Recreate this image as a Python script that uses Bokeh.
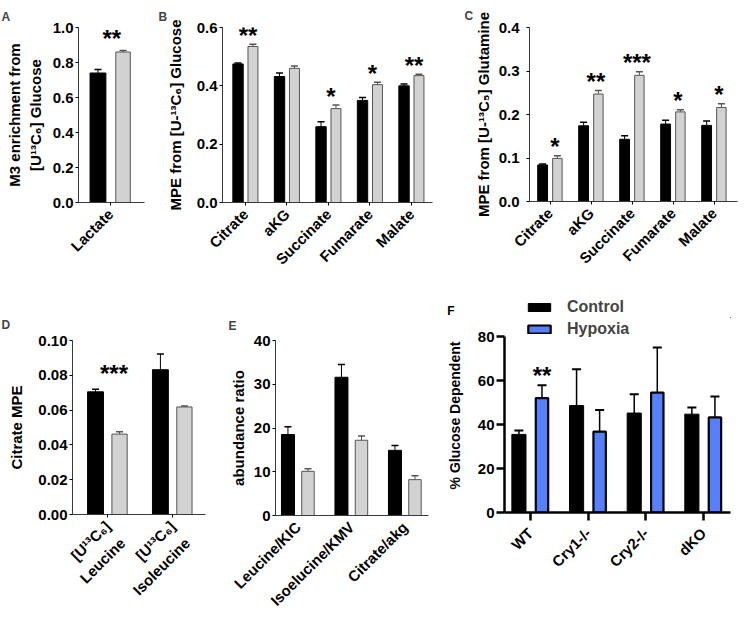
from bokeh.plotting import figure
from bokeh.layouts import row, column
from bokeh.models import (ColumnDataSource, Label, FixedTicker,
                          NumeralTickFormatter, Range1d, Legend, LegendItem, LinearAxis)
from bokeh.embed import file_html
from bokeh.resources import INLINE

FONT = "Liberation Sans"
GRAY = "#d2d2d2"
BLUE = "#5580ff"
ROT = 0.785

# ---------------- data ----------------
a_cats = ["Lactate"]
a_ctrl = [0.74]
a_ctrl_err = [0.02]
a_trt = [0.86]
a_trt_err = [0.008]
a_sig = ["**"]
a_yticks = [0, 0.2, 0.4, 0.6, 0.8, 1.0]

b_cats = ["Citrate", "aKG", "Succinate", "Fumarate", "Malate"]
b_ctrl = [0.475, 0.432, 0.26, 0.35, 0.40]
b_ctrl_err = [0.003, 0.012, 0.017, 0.010, 0.006]
b_trt = [0.535, 0.46, 0.322, 0.404, 0.435]
b_trt_err = [0.008, 0.008, 0.012, 0.008, 0.005]
b_sig = ["**", "", "*", "*", "**"]
b_yticks = [0, 0.2, 0.4, 0.6]

c_cats = ["Citrate", "aKG", "Succinate", "Fumarate", "Malate"]
c_ctrl = [0.084, 0.174, 0.143, 0.178, 0.175]
c_ctrl_err = [0.002, 0.008, 0.008, 0.009, 0.010]
c_trt = [0.099, 0.247, 0.290, 0.206, 0.216]
c_trt_err = [0.006, 0.008, 0.008, 0.005, 0.009]
c_sig = ["*", "**", "***", "*", "*"]
c_yticks = [0, 0.1, 0.2, 0.3, 0.4]

d_tracer = ["[U\u00b9\u00b3C\u2086]", "[U\u00b9\u00b3C\u2086]"]
d_cats = ["Leucine", "Isoleucine"]
d_ctrl = [0.0705, 0.0832]
d_ctrl_err = [0.0015, 0.009]
d_trt = [0.0462, 0.0618]
d_trt_err = [0.0013, 0.0005]
d_sig = ["***", ""]
d_yticks = [0, 0.02, 0.04, 0.06, 0.08, 0.10]

e_cats = ["Leucine/KIC", "Isoelucine/KMV", "Citrate/akg"]
e_ctrl = [18.5, 31.6, 14.9]
e_ctrl_err = [1.8, 2.9, 1.1]
e_trt = [10.1, 17.2, 8.2]
e_trt_err = [0.6, 1.0, 0.9]
e_yticks = [0, 10, 20, 30, 40]

f_cats = ["WT", "Cry1-/-", "Cry2-/-", "dKO"]
f_ctrl = [35.5, 48.6, 45.2, 44.7]
f_ctrl_err = [1.8, 16.5, 8.6, 3.0]
f_hyp = [52.0, 36.8, 54.5, 43.2]
f_hyp_err = [5.8, 9.8, 20.5, 9.5]
f_sig = ["**", "", "", ""]
f_yticks = [0, 20, 40, 60, 80]
f_series = ["Control", "Hypoxia"]


def make_fig(bl, fw, br, bt, fh, bb, xr, yr):
    p = figure(frame_width=fw, frame_height=fh,
               x_range=Range1d(*xr), y_range=Range1d(*yr),
               output_backend="svg", toolbar_location=None, tools="",
               min_border_left=bl, min_border_right=br,
               min_border_top=bt, min_border_bottom=bb)
    p.outline_line_color = None
    p.xgrid.visible = False
    p.ygrid.visible = False
    return p


def style(p, cats, yticks, yfmt, ylabel, thick=False, xticks_visible=True,
          ylab_standoff=8, mls=2, xls=6, ylab_size="15px", ybounds=None):
    for ax in (p.xaxis[0], p.yaxis[0]):
        if thick:
            ax.axis_line_color = "black"
            ax.axis_line_width = 2.5
            ax.major_tick_line_width = 2.5
        else:
            ax.axis_line_color = "#3a3a3a"
        ax.minor_tick_line_color = None
        ax.major_tick_in = 0
        ax.major_tick_out = 8 if thick else 3
        ax.major_label_text_font_size = "15px"
        ax.major_label_text_font = FONT
        ax.major_label_text_font_style = "bold"
        ax.major_label_text_color = "black"
    ya = p.yaxis[0]
    ya.ticker = FixedTicker(ticks=yticks)
    ya.formatter = NumeralTickFormatter(format=yfmt)
    ya.major_label_standoff = mls
    ya.axis_label = ylabel
    ya.axis_label_text_font = FONT
    ya.axis_label_text_font_style = "bold"
    ya.axis_label_text_font_size = ylab_size
    ya.axis_label_text_color = "black"
    ya.axis_label_standoff = ylab_standoff
    if ybounds is not None:
        ya.bounds = ybounds
    xa = p.xaxis[0]
    xa.ticker = FixedTicker(ticks=list(range(len(cats))))
    xa.major_label_overrides = {i: c for i, c in enumerate(cats)}
    xa.major_label_orientation = ROT
    xa.major_label_standoff = xls
    if not xticks_visible:
        xa.major_tick_line_color = None


def bars(p, n, vals, errs, off, width, fill, line, lw=1, cap=7, wlw=1):
    xs = [i + off for i in range(n)]
    src = ColumnDataSource(dict(x=xs, top=vals, hi=[v + e for v, e in zip(vals, errs)]))
    p.segment(x0="x", y0="top", x1="x", y1="hi", source=src, line_color=line, line_width=wlw)
    p.scatter(x="x", y="hi", source=src, marker="dash", size=cap,
              line_color=line, line_width=wlw + 0.5)
    return p.vbar(x="x", top="top", bottom=0, width=width, source=src,
                  fill_color=fill, line_color=line, line_width=lw)


def stars(p, sig, tops, xoff, dy=9, size="24px"):
    for i, (s, t) in enumerate(zip(sig, tops)):
        if s:
            p.add_layout(Label(x=i + xoff, y=t, text=s, text_align="center",
                               text_baseline="middle", y_offset=dy,
                               text_font=FONT, text_font_style="bold",
                               text_font_size=size, text_color="black"))


def letter(p, txt, offset, standoff):
    p.title.text = txt
    p.title.align = "left"
    p.title.offset = offset
    p.title.standoff = standoff
    p.title.text_font = FONT
    p.title.text_font_style = "bold"
    p.title.text_font_size = "12px"


def tops(a, ae, b, be):
    return [max(x + xe, y + ye) for x, xe, y, ye in zip(a, ae, b, be)]


def legend(items, loc):
    return Legend(items=items, location=loc, orientation="vertical",
                  glyph_width=28, glyph_height=10, label_standoff=14, spacing=0,
                  padding=0, margin=0, border_line_color=None, background_fill_alpha=0,
                  label_text_font=FONT, label_text_font_style="bold",
                  label_text_font_size="16px", label_height=18)


# ---------------- panel A ----------------
pA = make_fig(78, 66, 8, 25, 175, 92, (-0.485, 0.515), (0, 1.0))
style(pA, a_cats, a_yticks, "0.0", "M3 enrichment from\n[U\u00b9\u00b3C\u2086] Glucose", ylab_standoff=6)
bars(pA, 1, a_ctrl, a_ctrl_err, -0.19, 0.24, "black", "black")
bars(pA, 1, a_trt, a_trt_err, 0.19, 0.22, GRAY, "#555555")
stars(pA, a_sig, tops(a_ctrl, a_ctrl_err, a_trt, a_trt_err), 0.02, dy=12)
letter(pA, "A", -77, 8)

# ---------------- panel B ----------------
pB = make_fig(70, 210, 23, 24, 175, 93, (-0.554, 4.506), (0, 0.6))
style(pB, b_cats, b_yticks, "0.0", "MPE from [U-\u00b9\u00b3C\u2086] Glucose", ylab_standoff=10)
bars(pB, 5, b_ctrl, b_ctrl_err, -0.18, 0.25, "black", "black")
bars(pB, 5, b_trt, b_trt_err, 0.18, 0.24, GRAY, "#555555")
stars(pB, b_sig, tops(b_ctrl, b_ctrl_err, b_trt, b_trt_err), 0.06)
letter(pB, "B", -64, 7)

# ---------------- panel C ----------------
pC = make_fig(74, 208, 2, 27, 174, 91, (-0.5, 4.573), (0, 0.4))
style(pC, c_cats, c_yticks, "0.0", "MPE from [U-\u00b9\u00b3C\u2085] Glutamine",
      ylab_standoff=4, mls=7)
bars(pC, 5, c_ctrl, c_ctrl_err, -0.18, 0.24, "black", "black")
bars(pC, 5, c_trt, c_trt_err, 0.18, 0.23, GRAY, "#555555")
stars(pC, c_sig, tops(c_ctrl, c_ctrl_err, c_trt, c_trt_err), 0.12)
letter(pC, "C", -65, 10)

# ---------------- panel D ----------------
pD = make_fig(72, 133, 20, 48, 174, 106, (-0.54, 1.51), (0, 0.10))
style(pD, d_tracer, d_yticks, "0.00", "Citrate MPE", ylab_standoff=10)
xa2 = LinearAxis(ticker=FixedTicker(ticks=[0.23, 1.23]),
                 major_label_overrides={0.23: d_cats[0], 1.23: d_cats[1]},
                 major_label_orientation=ROT, major_label_standoff=-32,
                 axis_line_color=None, major_tick_line_color=None, minor_tick_line_color=None,
                 major_tick_out=0, major_tick_in=0,
                 major_label_text_font=FONT, major_label_text_font_style="bold",
                 major_label_text_font_size="15px", major_label_text_color="black")
pD.add_layout(xa2, "below")
bars(pD, 2, d_ctrl, d_ctrl_err, -0.185, 0.245, "black", "black")
bars(pD, 2, d_trt, d_trt_err, 0.185, 0.235, GRAY, "#555555")
stars(pD, d_sig, [d_ctrl[0], 0], 0.1, dy=18)
letter(pD, "D", -71, 17)

# ---------------- panel E ----------------
pE = make_fig(50, 153, 12, 46, 175, 107, (-0.42, 2.44), (0, 40))
style(pE, e_cats, e_yticks, "0", "abundance ratio", ylab_standoff=4, xticks_visible=False)
bars(pE, 3, e_ctrl, e_ctrl_err, -0.187, 0.243, "black", "black")
bars(pE, 3, e_trt, e_trt_err, 0.187, 0.233, GRAY, "#555555")
letter(pE, "E", -47, 15)

# ---------------- panel F ----------------
# strip above F: panel letter (as a tick label) and the first legend row
pL = make_fig(64, 226, 9, 0, 26, 0, (0, 1), (0, 26))
pL.xaxis.visible = False
ly = pL.yaxis[0]
ly.ticker = FixedTicker(ticks=[6])
ly.major_label_overrides = {6: "F"}
ly.axis_line_color = None
ly.major_tick_line_color = None
ly.minor_tick_line_color = None
ly.major_tick_out = 0
ly.major_tick_in = 0
ly.major_label_standoff = 50
ly.major_label_text_font = FONT
ly.major_label_text_font_style = "bold"
ly.major_label_text_font_size = "12px"
ly.major_label_text_color = "black"
lc = pL.vbar(x=[5], top=[1], width=0.1, fill_color="black", line_color="black")
pL.add_layout(legend([LegendItem(label=f_series[0], renderers=[lc])], (21, 2)))

f_top = 80 + 18 / 2.2
pF = make_fig(64, 226, 9, 0, 194, 108, (-0.45, 3.47), (0, f_top))
style(pF, f_cats, f_yticks, "0", "% Glucose Dependent", thick=True, ylab_standoff=12, mls=2,
      xls=10, ylab_size="14px", ybounds=(0, 80))
bars(pF, 4, f_ctrl, f_ctrl_err, -0.2, 0.245, "black", "black", cap=9, wlw=1.5)
rh = bars(pF, 4, f_hyp, f_hyp_err, 0.2, 0.215, BLUE, "black", lw=2.2, cap=9, wlw=1.5)
stars(pF, f_sig, [v + e for v, e in zip(f_hyp, f_hyp_err)], 0.2, dy=10)
pF.add_layout(legend([LegendItem(label=f_series[1], renderers=[rh])], (21, 174)))

layout = column(row(pA, pB, pC), row(pD, pE, column(pL, pF)))
open("out.html", "w").write(file_html(layout, INLINE))
